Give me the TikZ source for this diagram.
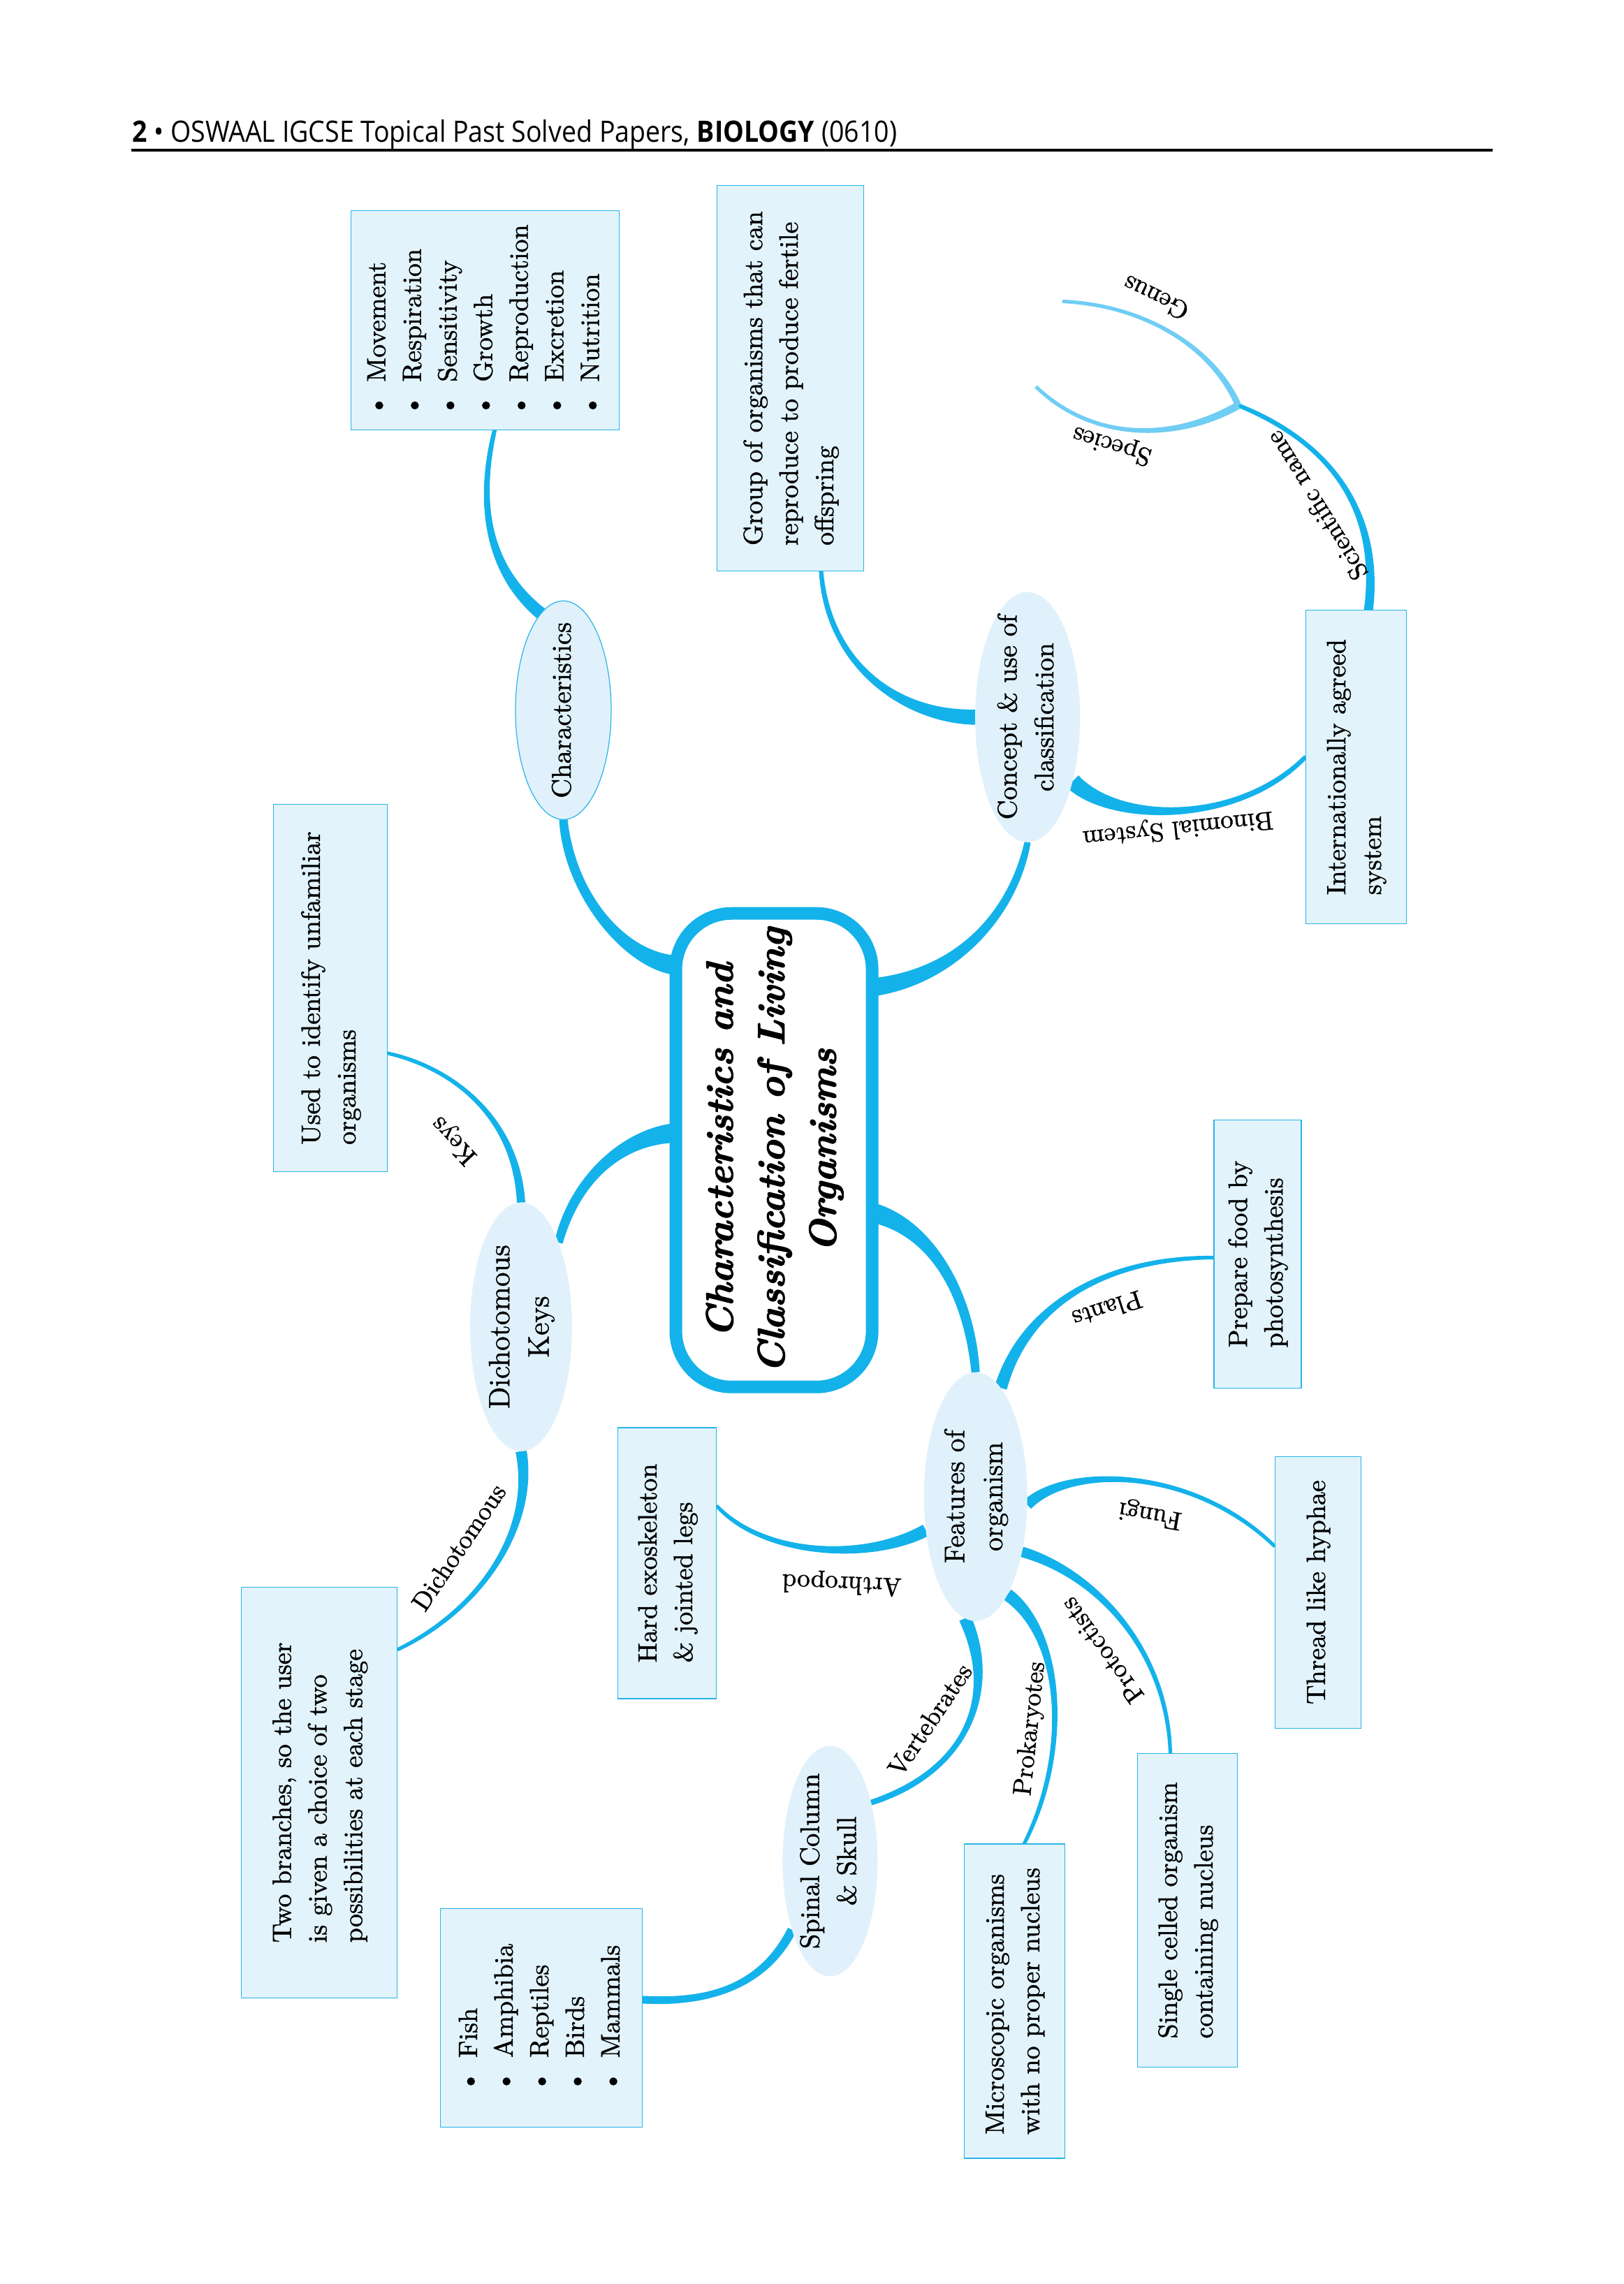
\documentclass[tikz,border=0pt]{standalone}
\usepackage{fontspec}
\usepackage{graphicx}
\setmainfont{Latin Modern Roman}[FakeBold=1.2]
\newfontfamily\titlefont{Latin Modern Roman}[FakeBold=2]
\newfontfamily\hdrfont{Open Sans}
\usetikzlibrary{calc,shapes.geometric,backgrounds}
\definecolor{conn}{RGB}{20,178,234}
\definecolor{connlight}{RGB}{112,205,243}
\definecolor{boxfill}{RGB}{226,243,252}
\definecolor{boxline}{RGB}{40,180,230}
\definecolor{ellfill}{RGB}{224,241,251}
\newcommand{\rottext}[2]{\rotatebox{90}{\begin{tabular}{@{}#1@{}}#2\end{tabular}}}
\newcommand{\centrot}[2]{\smash{\raisebox{-0.5\height}{\makebox[0pt]{\rottext{#1}{#2}}}}}
% tapered brush stroke: [colour]{start}{c1}{c2}{end}{width at start mm}{width at end mm}
\newcommand{\brushline}[7][conn]{%
  \pgfmathsetmacro\bwa{#6/2}%
  \pgfmathsetmacro\bwb{#7/2}%
  \pgfmathsetmacro\bwc{(2*#6+#7)/6}%
  \pgfmathsetmacro\bwd{(#6+2*#7)/6}%
  \coordinate (bAL) at ($(#2)!\bwa mm!90:(#3)$);
  \coordinate (bAR) at ($(#2)!\bwa mm!-90:(#3)$);
  \coordinate (bCL) at ($(#3)!\bwc mm!-90:(#2)$);
  \coordinate (bCR) at ($(#3)!\bwc mm!90:(#2)$);
  \coordinate (bDL) at ($(#4)!\bwd mm!90:(#5)$);
  \coordinate (bDR) at ($(#4)!\bwd mm!-90:(#5)$);
  \coordinate (bBL) at ($(#5)!\bwb mm!-90:(#4)$);
  \coordinate (bBR) at ($(#5)!\bwb mm!90:(#4)$);
  \fill[#1] (bAL) .. controls (bCL) and (bDL) .. (bBL) -- (bBR) .. controls (bDR) and (bCR) .. (bAR) -- cycle;
}
\begin{document}
\begin{tikzpicture}[x=0.0992mm,y=-0.0992mm,
  infobox/.style={draw=boxline, line width=0.12mm, fill=boxfill, inner sep=0pt, outer sep=0pt, font=\fontsize{10.8}{14.5}\selectfont},
  bubble/.style={ellipse, fill=ellfill, inner sep=0pt, outer sep=0pt, font=\fontsize{11}{15}\selectfont},
  lbl/.style={inner sep=0pt, font=\fontsize{10.5}{12}\selectfont},
  titlebox/.style={draw=conn, line width=1.8mm, rounded corners=8mm, fill=white, inner sep=0pt, outer sep=0pt, font=\titlefont\fontsize{15.5}{21}\selectfont\bfseries\itshape}]
\useasboundingbox (0,0) rectangle (2343.75,3296.4);

% header
\node[anchor=base west, inner sep=0pt, font=\hdrfont\fontsize{12}{14}\selectfont] (hdr) at (190,205)
  {\resizebox{109.5mm}{\height}{\textbf{2} \textbullet\ OSWAAL IGCSE Topical Past Solved Papers, \textbf{BIOLOGY} (0610)}};
\draw[line width=0.42mm] (190,217) -- (2154,217);

% central title
\node[titlebox, minimum width=28.1mm, minimum height=67.8mm] (ttl) at (1117,1660)
  {\centrot{c}{Characteristics and\\Classification of Living\\Organisms}};

% bubbles
\node[bubble, draw=boxline, line width=0.12mm, minimum width=13.7mm, minimum height=31.3mm] (chr) at (813,1025) {\centrot{c}{Characteristics}};
\node[bubble, minimum width=15mm, minimum height=35.8mm] (con) at (1483,1035) {\centrot{c}{Concept \& use of\\classification}};
\node[bubble, minimum width=14.6mm, minimum height=35.6mm, font=\fontsize{12}{16}\selectfont] (dich) at (752,1915) {\centrot{c}{Dichotomous\\Keys}};
\node[bubble, minimum width=14.8mm, minimum height=35.6mm, font=\fontsize{11.5}{15.5}\selectfont] (feat) at (1408,2160) {\centrot{c}{Features of\\organism}};
\node[bubble, minimum width=13.6mm, minimum height=33mm] (spin) at (1198,2686) {\centrot{c}{Spinal Column\\\& Skull}};

% boxes
\node[infobox, minimum width=38.4mm, minimum height=31.4mm] (mov) at (700,462)
  {\centrot{l}{\textbullet\hspace{0.5em}Movement\\\textbullet\hspace{0.5em}Respiration\\\textbullet\hspace{0.5em}Sensitivity\\\textbullet\hspace{0.5em}Growth\\\textbullet\hspace{0.5em}Reproduction\\\textbullet\hspace{0.5em}Excretion\\\textbullet\hspace{0.5em}Nutrition}};
\node[infobox, minimum width=21mm, minimum height=55.2mm] (grp) at (1141,546)
  {\centrot{l}{Group of organisms that can\\reproduce to produce fertile\\offspring}};
\node[infobox, minimum width=14.4mm, minimum height=44.9mm] (intl) at (1957,1107)
  {\centrot{l}{Internationally agreed\\system}};
\node[infobox, minimum width=16.3mm, minimum height=52.6mm] (used) at (477,1426)
  {\centrot{l}{Used to identify unfamiliar\\organisms}};
\node[infobox, minimum width=22.3mm, minimum height=58.8mm] (two) at (461,2587)
  {\centrot{l}{Two branches, so the user\\is given a choice of two\\possibilities at each stage}};
\node[infobox, minimum width=12.5mm, minimum height=38.4mm] (prep) at (1815,1810)
  {\centrot{l}{Prepare food by\\photosynthesis}};
\node[infobox, minimum width=14.1mm, minimum height=38.8mm] (hard) at (963,2256)
  {\centrot{l}{Hard exoskeleton\\\& jointed legs}};
\node[infobox, minimum width=12.3mm, minimum height=38.9mm] (thr) at (1902,2298)
  {\centrot{l}{Thread like hyphae}};
\node[infobox, minimum width=14.4mm, minimum height=45mm] (mic) at (1464,2888)
  {\centrot{l}{Microscopic organisms\\with no proper nucleus}};
\node[infobox, minimum width=14.3mm, minimum height=44.9mm] (sgl) at (1714,2757)
  {\centrot{l}{Single celled organism\\containing nucleus}};
\node[infobox, minimum width=28.9mm, minimum height=31.3mm] (fish) at (781,2912)
  {\centrot{l}{\textbullet\hspace{0.5em}Fish\\\textbullet\hspace{0.5em}Amphibia\\\textbullet\hspace{0.5em}Reptiles\\\textbullet\hspace{0.5em}Birds\\\textbullet\hspace{0.5em}Mammals}};

% connector labels
\node[lbl, rotate=133] (lkeys) at (656,1645) {Keys};
\node[lbl, rotate=56]  (ldich) at (662,2233) {Dichotomous};
\node[lbl, rotate=186] (lbin) at (1700,1195) {Binomial System};
\node[lbl, rotate=122] (lsci) at (1900,730) {Scientific name};
\node[lbl, rotate=154] (lgen) at (1668,430) {Genus};
\node[lbl, rotate=163] (lspe) at (1605,642) {Species};
\node[lbl, rotate=198] (lpla) at (1598,1890) {Plants};
\node[lbl, rotate=170] (lfun) at (1660,2185) {Fungi};
\node[lbl, rotate=178] (lart) at (1215,2285) {Arthropod};
\node[lbl, rotate=126] (lpro) at (1590,2382) {Protoctists};
\node[lbl, rotate=56]  (lver) at (1342,2482) {Vertebrates};
\node[lbl, rotate=84]  (lprk) at (1488,2495) {Prokaryotes};

% connectors
\begin{pgfonlayer}{background}
\fill[white] (0,0) rectangle (2343.75,3296.4);
\coordinate (jn) at (1787,585);
\coordinate (gn) at (1533,435);
\coordinate (spc) at (1495,558);
\coordinate (movS) at ($(mov.south)+(14,0)$);
\coordinate (grpS) at ($(grp.south)+(44,0)$);
\coordinate (intlW) at ($(intl.west)+(0,-15)$);
\coordinate (intlN) at ($(intl.north)+(18,0)$);
\coordinate (usedE) at ($(used.east)+(0,94)$);
\coordinate (twoE) at ($(two.east)+(0,-206)$);
\coordinate (prepW) at ($(prep.west)+(0,5)$);
\coordinate (thrW) at ($(thr.west)+(0,-66)$);
\coordinate (hardE) at ($(hard.east)+(0,-83)$);
\coordinate (micN) at ($(mic.north)+(14,0)$);
\coordinate (sglN) at ($(sgl.north)+(-25,0)$);
\coordinate (fishE) at ($(fish.east)+(0,-26)$);
\coordinate (ttlA) at ($(ttl.north west)+(0,75)$);
\coordinate (ttlC) at ($(ttl.east)+(0,-235)$);
\coordinate (ttlD) at ($(ttl.west)+(0,-25)$);
\coordinate (ttlF) at ($(ttl.east)+(0,90)$);

\brushline{movS}{690,720}{700,820}{chr.103}{0.6}{1.8}
\brushline{chr.south}{822,1290}{900,1385}{ttlA}{1.2}{2.8}
\brushline{ttlC}{1380,1410}{1462,1320}{con.south}{2.6}{0.9}
\brushline{grpS}{1195,960}{1300,1035}{con.west}{0.6}{2.2}
\brushline{con.-55}{1610,1190}{1790,1190}{intlW}{2.4}{0.6}
\brushline{intlN}{1995,720}{1900,630}{jn}{1.3}{0.6}
\brushline[connlight]{jn}{1750,500}{1650,440}{gn}{0.9}{0.5}
\brushline[connlight]{jn}{1700,635}{1580,640}{spc}{1.1}{0.5}
\brushline{usedE}{650,1540}{745,1610}{dich.north}{0.5}{1.2}
\brushline{ttlD}{900,1640}{830,1700}{dich.66}{2.8}{1.2}
\brushline{dich.south}{772,2200}{700,2320}{twoE}{1.6}{0.5}
\brushline{ttlF}{1340,1770}{1398,1860}{feat.north}{2.8}{1.2}
\brushline{feat.77}{1480,1880}{1600,1815}{prepW}{1.8}{0.5}
\brushline{feat.-9}{1540,2115}{1720,2115}{thrW}{1.6}{0.5}
\brushline{feat.214}{1250,2255}{1100,2245}{hardE}{1.8}{0.5}
\brushline{feat.265}{1440,2440}{1400,2555}{spin.55}{1.8}{0.8}
\brushline{feat.-72}{1535,2360}{1545,2530}{micN}{1.8}{0.5}
\brushline{feat.-50}{1580,2270}{1685,2380}{sglN}{1.5}{0.5}
\brushline{spin.241}{1095,2880}{1000,2890}{fishE}{1.3}{1.1}
\end{pgfonlayer}
\end{tikzpicture}
\end{document}
